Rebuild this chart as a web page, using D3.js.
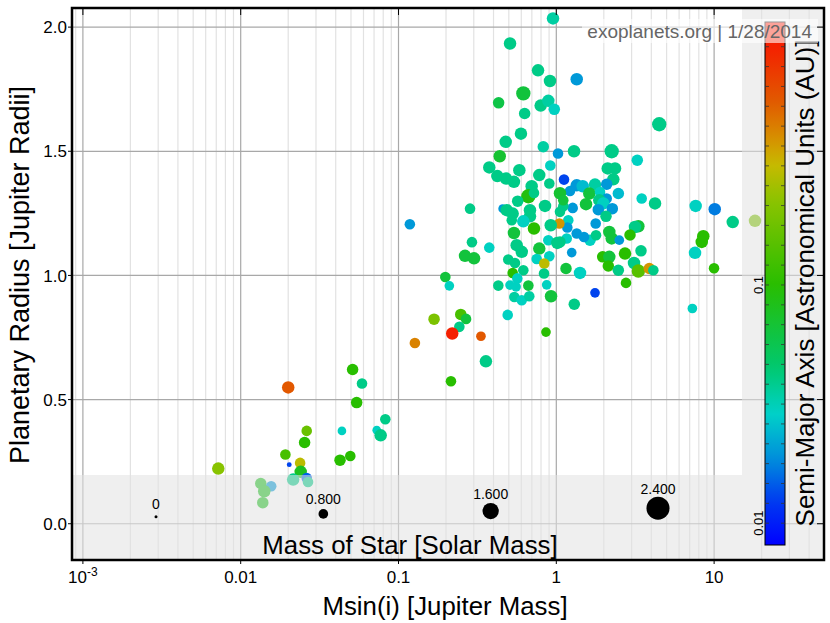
<!DOCTYPE html>
<html><head><meta charset="utf-8">
<script src="https://cdn.jsdelivr.net/npm/d3@7"></script>
<style>body{margin:0;background:#fff}svg{font-family:"Liberation Sans",Arial,Helvetica,sans-serif}</style>
</head><body><svg id="c" width="830" height="623"></svg>
<script>
// ---------- DATA ----------
const planetMass = [0.953,0.509,0.766,0.912,1.347,0.618,0.431,0.796,0.890,0.971,0.630,0.597,0.478,0.438,0.827,1.025,1.295,0.376,0.583,0.916,
4.49,2.244,3.26,2.117,2.355,2.297,1.119,1.347,1.470,1.759,1.618,2.086,1.892,2.472,1.221,1.055,2.086,1.543,1.873,1.986,
2.264,1.845,1.270,3.476,4.222,2.065,1.107,7.64,10.09,13.12,18.16,1.191,1.174,1.777,1.045,3.31,3.153,2.167,2.244,2.931,
1.347,1.635,1.785,2.507,8.54,8.35,1.164,1.055,1.252,2.725,3.441,1.968,2.167,3.107,7.57,2.136,2.472,3.31,3.886,4.12,
9.99,1.152,1.413,2.765,1.759,1.30,7.28,0.423,0.480,0.539,0.780,0.903,0.698,0.665,0.722,0.569,0.284,0.457,0.485,0.529,
0.681,0.681,0.848,0.618,0.522,0.922,0.722,0.539,0.890,1.015,0.292,0.376,0.561,0.604,0.780,0.264,0.301,0.496,0.547,0.751,
0.903,0.839,0.529,0.618,0.836,0.198,0.210,0.429,0.509,0.556,0.665,0.869,0.566,0.542,0.604,0.674,0.926,0.492,0.168,0.248,
0.268,0.243,0.219,0.333,0.860,1.107,1.055,1.498,0.118,0.00721,0.0200,0.0262,0.0254,0.0192,0.0203,0.0238,0.0240,0.0215,0.0262,0.0267,
0.0134,0.0156,0.0141,0.0138,0.0512,0.0587,0.0543,0.0825,0.0438,0.0728,0.0771,0.0426,0.0495,0.127,0.358,0.215];
const planetRadius = [2.035,1.934,1.826,1.783,1.790,1.733,1.695,1.684,1.703,1.669,1.652,1.571,1.538,1.480,1.518,1.491,1.500,1.435,1.424,1.443,
1.609,1.500,1.464,1.431,1.431,1.387,1.386,1.363,1.359,1.366,1.330,1.367,1.336,1.330,1.340,1.331,1.310,1.287,1.303,1.290,
1.269,1.265,1.272,1.310,1.290,1.238,1.279,1.280,1.267,1.215,1.220,1.222,1.193,1.209,1.209,1.198,1.195,1.175,1.149,1.163,
1.169,1.142,1.162,1.142,1.158,1.135,1.149,1.135,1.092,1.088,1.099,1.075,1.075,1.050,1.091,1.038,1.021,1.018,1.028,1.021,
1.029,1.028,1.010,0.970,0.930,0.884,0.867,1.400,1.390,1.377,1.404,1.370,1.359,1.319,1.332,1.299,1.269,1.269,1.263,1.249,
1.263,1.238,1.280,1.218,1.222,1.202,1.189,1.171,1.142,1.131,1.134,1.112,1.122,1.095,1.108,1.079,1.069,1.064,1.050,1.066,
1.077,1.048,1.010,1.021,1.008,0.994,0.958,0.959,0.961,0.954,0.959,0.962,0.988,0.913,0.900,0.916,0.916,0.841,0.824,0.843,
0.825,0.793,0.766,0.755,0.772,1.303,1.256,1.155,1.206,0.222,0.549,0.374,0.327,0.279,0.238,0.245,0.209,0.178,0.184,0.168,
0.162,0.151,0.131,0.085,0.621,0.565,0.488,0.421,0.374,0.377,0.356,0.256,0.273,0.728,0.654,0.574];
const semiMajorAxis = [0.035,0.04,0.04,0.04,0.02,0.065,0.06,0.04,0.035,0.03,0.04,0.04,0.04,0.07,0.035,0.02,0.04,0.04,0.04,0.03,
0.04,0.04,0.03,0.04,0.04,0.04,0.013,0.02,0.025,0.035,0.065,0.02,0.03,0.025,0.02,0.07,0.02,0.065,0.04,0.03,
0.02,0.02,0.02,0.03,0.04,0.04,0.04,0.03,0.017,0.04,0.2,0.03,0.02,0.02,0.4,0.065,0.04,0.065,0.065,0.1,
0.02,0.03,0.04,0.02,0.1,0.1,0.03,0.04,0.02,0.1,0.04,0.1,0.065,0.04,0.03,0.1,0.04,0.15,0.4,0.04,
0.1,0.065,0.03,0.1,0.013,0.04,0.03,0.04,0.04,0.04,0.04,0.04,0.04,0.09,0.04,0.04,0.04,0.02,0.04,0.04,
0.04,0.04,0.04,0.03,0.04,0.04,0.1,0.065,0.03,0.04,0.04,0.03,0.04,0.04,0.065,0.065,0.065,0.04,0.04,0.03,
0.03,0.3,0.1,0.04,0.04,0.065,0.03,0.04,0.03,0.03,0.065,0.03,0.03,0.035,0.03,0.035,0.065,0.03,0.2,0.13,
0.065,0.04,1.0,0.6,0.1,0.065,0.04,0.02,0.02,0.22,0.6,0.17,0.1,0.13,0.013,0.3,0.08,0.04,0.015,0.04,
0.08,0.02,0.08,0.08,0.1,0.04,0.1,0.04,0.03,0.03,0.04,0.1,0.1,0.45,0.04,0.1];
const starMass = [1.14,1.14,1.14,1.14,1.14,1.36,1.02,1.14,1.14,1.02,1.02,1.14,1.14,1.14,1.02,0.91,1.14,1.14,1.14,0.91,
1.36,1.36,1.02,1.14,1.14,1.14,0.91,1.14,1.14,1.14,1.14,1.02,0.91,1.02,0.91,1.14,0.91,1.14,1.14,1.14,
1.02,1.02,0.91,0.91,1.14,1.02,0.91,1.14,1.14,1.14,1.14,0.91,0.91,0.91,0.91,1.14,1.14,1.14,1.14,1.02,
0.91,1.02,0.91,0.8,1.14,1.14,0.91,1.02,0.8,1.14,1.02,1.02,1.14,1.14,1.14,1.02,1.02,1.25,1.02,0.91,
0.91,1.02,1.14,0.91,0.8,1.02,0.8,1.14,1.14,1.14,1.14,0.91,1.14,1.36,0.91,1.02,0.91,0.68,1.14,1.14,
1.14,1.14,1.14,1.14,0.91,1.14,1.14,1.14,0.91,1.14,0.91,0.91,1.14,1.14,1.14,1.14,1.14,0.91,0.91,0.91,
0.91,0.91,0.91,0.91,0.91,0.91,0.8,0.91,0.8,0.8,0.91,0.8,0.91,0.91,0.91,0.91,1.14,0.91,1.02,1.02,
0.91,0.91,1.14,0.8,0.8,0.91,0.91,0.91,0.91,1.14,1.14,0.91,1.02,0.91,0.23,0.91,1.14,1.14,0.91,0.91,
1.02,0.91,1.14,1.02,1.02,0.91,1.02,0.91,0.68,0.68,1.14,1.02,0.91,0.91,1.14,0.91];
const xTickValues = [0.001, 0.01, 0.1, 1, 10];
const yTickValues = [0, 0.5, 1, 1.5, 2];
const colorTickValues = [0.01, 0.1];
const legendStarMass = [0, 0.8, 1.6, 2.4];
const legendLabels = ["0", "0.800", "1.600", "2.400"];
const colorStopLogA = [-2.092,-1.903,-1.735,-1.538,-1.345,-1.0,-0.643,-0.492,-0.374,-0.231,0.008,0.105];
const colorStopRGB = ["#0000ff","#003cf0","#008cdc","#00d2c8","#00c86e","#28be00","#8cc300","#c8b900","#d78c00","#e15a00","#f51e00","#fa1400"];

// ---------- LAYOUT ----------
const svg = d3.select("#c");
const L = 72, R = 824, T = 8, B = 560;
const x = d3.scaleLog().domain([8.53e-4, 49.7]).range([L, R]);
const y = d3.scaleLinear().domain([-0.146, 2.077]).range([B, T]);
const rScale = d3.scaleLinear().domain([0, 2.4]).range([1.5, 11.5]);
const cScale = d3.scaleLinear().domain(colorStopLogA).range(colorStopRGB).interpolate(d3.interpolateRgb);
const color = a => cScale(Math.log10(a));

svg.append("rect").attr("x", L).attr("y", T).attr("width", R - L).attr("height", B - T).attr("fill", "#fff");
svg.append("defs").append("clipPath").attr("id", "pc").append("rect")
  .attr("x", L).attr("y", T).attr("width", R - L).attr("height", B - T);
const plot = svg.append("g").attr("clip-path", "url(#pc)");

// minor x grid
const minor = [];
for (let e = -4; e <= 1; e++) for (let k = 2; k <= 9; k++) { const v = k * Math.pow(10, e); if (v > x.domain()[0] && v < x.domain()[1]) minor.push(v); }
plot.selectAll(".mg").data(minor).join("line").attr("x1", d => x(d)).attr("x2", d => x(d)).attr("y1", T).attr("y2", B)
  .attr("stroke", "#e2e2e2").attr("stroke-width", 1.2);
plot.selectAll(".xg").data(xTickValues).join("line").attr("x1", d => x(d)).attr("x2", d => x(d)).attr("y1", T).attr("y2", B)
  .attr("stroke", "#a8a8a8").attr("stroke-width", 1.2);
plot.selectAll(".yg").data(yTickValues).join("line").attr("y1", d => y(d)).attr("y2", d => y(d)).attr("x1", L).attr("x2", R)
  .attr("stroke", "#a8a8a8").attr("stroke-width", 1.2);

// points
const pts = planetMass.map((m, i) => ({ m, r: planetRadius[i], a: semiMajorAxis[i], s: starMass[i] }));
plot.selectAll(".pt").data(pts).join("circle")
  .attr("cx", d => x(d.m)).attr("cy", d => y(d.r)).attr("r", d => rScale(d.s))
  .attr("fill", d => color(d.a));

// translucent gray panels (legend band + colorbar column)
const bandTop = 475, colLeft = 742;
plot.append("rect").attr("x", L).attr("y", bandTop).attr("width", colLeft - L).attr("height", B - bandTop)
  .attr("fill", "#e2e2e2").attr("opacity", 0.55);
plot.append("rect").attr("x", colLeft).attr("y", T).attr("width", R - colLeft).attr("height", B - T)
  .attr("fill", "#e2e2e2").attr("opacity", 0.55);

// legend
const lx = d3.scaleLinear().domain([0, 2.4]).range([156, 658]);
const lg = svg.append("g");
legendStarMass.forEach((m, i) => {
  const r = rScale(m), cy = 518 - 0.85 * r;
  lg.append("circle").attr("cx", lx(m)).attr("cy", cy).attr("r", r).attr("fill", "#000");
  lg.append("text").attr("x", lx(m)).attr("y", cy - (0.6 * r + 7)).attr("text-anchor", "middle")
    .attr("font-size", 14).attr("fill", "#000").text(legendLabels[i]);
});
lg.append("text").attr("x", 410).attr("y", 554).attr("text-anchor", "middle").attr("font-size", 25.8).text("Mass of Star [Solar Mass]");

// colorbar
const cbX = 765, cbW = 20, cbTop = 22, cbBot = 545;
const cy = d3.scaleLog().domain([0.0081, 1.27]).range([cbBot, cbTop]);
const grad = svg.select("defs").append("linearGradient").attr("id", "cg").attr("x1", 0).attr("y1", 1).attr("x2", 0).attr("y2", 0);
for (let i = 0; i <= 40; i++) {
  const la = Math.log10(0.0081) + (Math.log10(1.27) - Math.log10(0.0081)) * i / 40;
  grad.append("stop").attr("offset", i / 40).attr("stop-color", cScale(la));
}
svg.append("rect").attr("x", cbX).attr("y", cbTop).attr("width", cbW).attr("height", cbBot - cbTop)
  .attr("fill", "url(#cg)").attr("stroke", "#000").attr("stroke-width", 1);
const cbMinor = [];
for (let la = -2 - 1/12; la < 0.1; la += 1/12) cbMinor.push(Math.pow(10, la));
svg.selectAll(".cbt").data(cbMinor).join("g").each(function (d) {
  const yy = cy(d); if (yy < cbTop + 2 || yy > cbBot - 2) return;
  d3.select(this).append("line").attr("x1", cbX).attr("x2", cbX + 4).attr("y1", yy).attr("y2", yy).attr("stroke", "#333").attr("stroke-width", 0.8);
  d3.select(this).append("line").attr("x1", cbX + cbW - 4).attr("x2", cbX + cbW).attr("y1", yy).attr("y2", yy).attr("stroke", "#333").attr("stroke-width", 0.8);
});
svg.selectAll(".cbl").data(colorTickValues).join("text")
  .attr("transform", d => `translate(${cbX - 2},${cy(d)}) rotate(-90)`)
  .attr("text-anchor", "middle").attr("font-size", 13).attr("fill", "#000").text(d => d);
svg.append("text").attr("transform", "translate(814,283) rotate(-90)").attr("text-anchor", "middle")
  .attr("font-size", 26).attr("fill", "#000").text("Semi-Major Axis [Astronomical Units (AU)]");

// watermark box
svg.append("rect").attr("x", 582).attr("y", 19).attr("width", 236).attr("height", 24).attr("fill", "#fff").attr("opacity", 0.6);
svg.append("text").attr("x", 812).attr("y", 38).attr("text-anchor", "end").attr("font-size", 19).attr("fill", "#666")
  .text("exoplanets.org | 1/28/2014");

// frame
svg.append("rect").attr("x", L).attr("y", T).attr("width", R - L).attr("height", B - T)
  .attr("fill", "none").attr("stroke", "#000").attr("stroke-width", 2.5);

// axes ticks + labels
const ax = svg.append("g");
yTickValues.forEach(v => {
  ax.append("line").attr("x1", L - 4).attr("x2", L).attr("y1", y(v)).attr("y2", y(v)).attr("stroke", "#000");
  ax.append("line").attr("x1", R - 7).attr("x2", R).attr("y1", y(v)).attr("y2", y(v)).attr("stroke", "#000");
  ax.append("text").attr("x", L - 5).attr("y", y(v)).attr("dy", "0.36em").attr("text-anchor", "end")
    .attr("font-size", 17).text(d3.format(".1f")(v));
});
xTickValues.forEach(v => {
  ax.append("line").attr("x1", x(v)).attr("x2", x(v)).attr("y1", B).attr("y2", B + 4).attr("stroke", "#000");
  ax.append("line").attr("x1", x(v)).attr("x2", x(v)).attr("y1", T).attr("y2", T + 7).attr("stroke", "#000");
  const t = ax.append("text").attr("x", x(v)).attr("y", 583).attr("text-anchor", "middle").attr("font-size", 17);
  if (v < 0.005) { t.append("tspan").text("10"); t.append("tspan").attr("dy", -7).attr("font-size", 12).text("-3"); }
  else t.text(v);
});
ax.append("text").attr("x", 445).attr("y", 615).attr("text-anchor", "middle").attr("font-size", 25.8).text("Msin(i) [Jupiter Mass]");
ax.append("text").attr("transform", "translate(29,275) rotate(-90)").attr("text-anchor", "middle")
  .attr("font-size", 27).text("Planetary Radius [Jupiter Radii]");
</script></body></html>
